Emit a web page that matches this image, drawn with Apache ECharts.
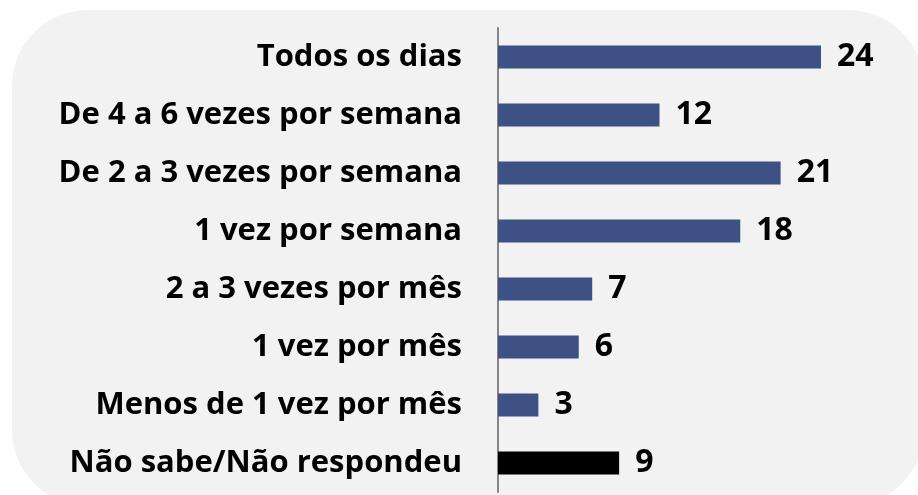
<!DOCTYPE html>
<html>
<head>
<meta charset="utf-8">
<script src="https://cdn.jsdelivr.net/npm/echarts@6/dist/echarts.min.js"></script>
<style>
  html, body { margin: 0; padding: 0; background: #ffffff; overflow: hidden; }
  #wrap {
    position: absolute; left: 12px; top: 10px; width: 912px; height: 496px;
    background: #f2f2f2; border-radius: 76px;
  }
  #main { position: absolute; left: 0; top: 0; width: 918px; height: 495px; }
</style>
</head>
<body>
<div id="wrap"></div>
<div id="main"></div>
<script>
// categorias de cima para baixo
var categories = [
  "Todos os dias",
  "De 4 a 6 vezes por semana",
  "De 2 a 3 vezes por semana",
  "1 vez por semana",
  "2 a 3 vezes por mês",
  "1 vez por mês",
  "Menos de 1 vez por mês",
  "Não sabe/Não respondeu"
];
var values = [24, 12, 21, 18, 7, 6, 3, 9];
var barColors = ["#3e5185", "#3e5185", "#3e5185", "#3e5185", "#3e5185", "#3e5185", "#3e5185", "#000000"];

var chartDom = document.getElementById("main");
var myChart = echarts.init(chartDom);
var font = "'Open Sans', Lato, sans-serif";

var seriesData = values.map(function (v, i) {
  return { value: v, itemStyle: { color: barColors[i] } };
});

var option = {
  animation: false,
  grid: { left: 498, right: 97, top: 28, bottom: 3, containLabel: false },
  xAxis: {
    type: "value",
    min: 0,
    max: 24,
    show: false
  },
  yAxis: {
    type: "category",
    inverse: true,
    data: categories,
    axisLine: { show: true, lineStyle: { color: "#868686", width: 2 } },
    axisTick: { show: false },
    axisLabel: {
      margin: 36,
      color: "#000000",
      fontFamily: font,
      fontWeight: "bold",
      fontSize: 31
    }
  },
  series: [
    {
      type: "bar",
      data: seriesData,
      barWidth: 23,
      label: {
        show: true,
        position: "right",
        distance: 16,
        color: "#000000",
        fontFamily: font,
        fontWeight: "bold",
        fontSize: 32
      }
    }
  ]
};

option && myChart.setOption(option);
</script>
</body>
</html>
